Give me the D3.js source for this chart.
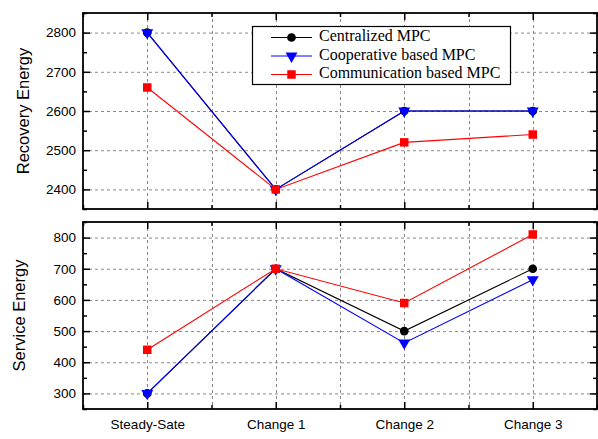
<!DOCTYPE html>
<html>
<head>
<meta charset="utf-8">
<script src="https://cdn.jsdelivr.net/npm/d3@7"></script>
<style>
  body { margin: 0; background: #fff; }
  svg { display: block; }
</style>
</head>
<body>
<svg id="chart" width="598" height="439"></svg>
<script>
// Scenario labels along the shared x axis
const categories = ["Steady-Sate", "Change 1", "Change 2", "Change 3"];

// Recovery energy per controller
const recoveryCentralized   = [2800, 2400, 2600, 2600];
const recoveryCooperative   = [2800, 2400, 2600, 2600];
const recoveryCommunication = [2660, 2400, 2520, 2540];

// Service energy per controller
const serviceCentralized   = [300, 700, 500, 700];
const serviceCooperative   = [300, 700, 462, 665];
const serviceCommunication = [440, 700, 590, 810];

const seriesNames = ["Centralized MPC", "Cooperative based MPC", "Communication based MPC"];

// Axis ticks
const recoveryTicks = [2400, 2500, 2600, 2700, 2800];
const recoveryMinor = [2350, 2450, 2550, 2650, 2750, 2850];
const serviceTicks  = [300, 400, 500, 600, 700, 800];
const serviceMinor  = [250, 350, 450, 550, 650, 750, 850];

const svg = d3.select("#chart");
const left = 83, right = 597;

const x = d3.scaleLinear().domain([-0.5, 3.5]).range([left, right]);
const xMajor = d3.range(categories.length);
const xMinor = d3.range(categories.length + 1).map(i => i - 0.5);
const xGrid  = d3.range(0, categories.length * 2 - 1).map(i => i * 0.5);

const styles = [
  { color: "#000000", shape: "circle" },
  { color: "#0000ff", shape: "triangle" },
  { color: "#ff0000", shape: "square" }
];

function marker(sel, shape, color) {
  if (shape === "circle") {
    sel.append("path").attr("d", d3.symbol(d3.symbolCircle, 60)()).attr("fill", color);
  } else if (shape === "triangle") {
    sel.append("path").attr("d", d3.symbol(d3.symbolTriangle, 62)())
      .attr("transform", "rotate(180)").attr("fill", color);
  } else {
    sel.append("path").attr("d", d3.symbol(d3.symbolSquare, 72)()).attr("fill", color);
  }
}

const sans = "Liberation Sans, Arial, sans-serif";

function panel(top, bottom, domain, ticks, minor, series, title, showXLabels) {
  const y = d3.scaleLinear().domain(domain).range([bottom, top]);
  const g = svg.append("g");
  const w = right - left, h = bottom - top;

  // dashed grid
  const grid = g.append("g").attr("stroke", "#8a8a8a").attr("stroke-width", 1)
    .attr("stroke-dasharray", "3,3");
  grid.selectAll("line.h").data(ticks).join("line")
    .attr("x1", left).attr("x2", right)
    .attr("y1", d => y(d) + 0.5).attr("y2", d => y(d) + 0.5);
  grid.selectAll("line.v").data(xGrid).join("line")
    .attr("y1", top).attr("y2", bottom)
    .attr("x1", d => Math.round(x(d)) + 0.5).attr("x2", d => Math.round(x(d)) + 0.5);

  // axes with inward ticks on all four sides
  const axisStyle = a => a.call(s => s.select(".domain").remove())
    .call(s => s.selectAll("line").attr("stroke", "#000").attr("stroke-width", 1.5));

  g.append("g").attr("transform", `translate(${left},0)`)
    .call(d3.axisLeft(y).tickValues(ticks).tickSize(-7).tickPadding(7).tickFormat(d3.format("d")))
    .call(axisStyle)
    .call(s => s.selectAll("text").attr("font-family", sans)
      .attr("font-size", 13.5).attr("fill", "#000"));
  g.append("g").attr("transform", `translate(${left},0)`)
    .call(d3.axisLeft(y).tickValues(minor).tickSize(-4).tickFormat(""))
    .call(axisStyle);
  g.append("g").attr("transform", `translate(${right},0)`)
    .call(d3.axisRight(y).tickValues(ticks).tickSize(-7).tickFormat(""))
    .call(axisStyle);
  g.append("g").attr("transform", `translate(${right},0)`)
    .call(d3.axisRight(y).tickValues(minor).tickSize(-4).tickFormat(""))
    .call(axisStyle);

  const bottomAxis = g.append("g").attr("transform", `translate(0,${bottom})`)
    .call(d3.axisBottom(x).tickValues(xMajor).tickSize(-7).tickPadding(10)
      .tickFormat(i => showXLabels ? categories[i] : ""))
    .call(axisStyle);
  bottomAxis.selectAll("text").attr("font-family", sans)
    .attr("font-size", 13.5).attr("fill", "#000");
  g.append("g").attr("transform", `translate(0,${bottom})`)
    .call(d3.axisBottom(x).tickValues(xMinor).tickSize(-4).tickFormat(""))
    .call(axisStyle);
  g.append("g").attr("transform", `translate(0,${top})`)
    .call(d3.axisTop(x).tickValues(xMajor).tickSize(-7).tickFormat(""))
    .call(axisStyle);
  g.append("g").attr("transform", `translate(0,${top})`)
    .call(d3.axisTop(x).tickValues(xMinor).tickSize(-4).tickFormat(""))
    .call(axisStyle);

  // frame
  g.append("rect").attr("x", left).attr("y", top).attr("width", w).attr("height", h)
    .attr("fill", "none").attr("stroke", "#000").attr("stroke-width", 1.8);

  // axis title
  g.append("text")
    .attr("transform", `translate(${title.x},${(top + bottom) / 2}) rotate(-90)`)
    .attr("text-anchor", "middle").attr("dominant-baseline", "middle")
    .attr("font-family", sans).attr("font-size", 16.5)
    .text(title.text);

  // series lines and markers
  const line = d3.line().x((d, i) => x(i)).y(d => y(d));
  series.forEach((vals, k) => {
    const st = styles[k];
    g.append("path").datum(vals).attr("d", line)
      .attr("fill", "none").attr("stroke", st.color).attr("stroke-width", 1.1);
    vals.forEach((v, i) => {
      const m = g.append("g").attr("transform", `translate(${x(i)},${y(v)})`);
      marker(m, st.shape, st.color);
    });
  });
  return y;
}

panel(13, 209, [2350, 2850], recoveryTicks, recoveryMinor,
  [recoveryCentralized, recoveryCooperative, recoveryCommunication],
  { text: "Recovery Energy", x: 25 }, false);

panel(222, 409, [250, 850], serviceTicks, serviceMinor,
  [serviceCentralized, serviceCooperative, serviceCommunication],
  { text: "Service Energy", x: 21 }, true);

// legend
const lg = svg.append("g");
lg.append("rect").attr("x", 252.5).attr("y", 26.5).attr("width", 258).attr("height", 58)
  .attr("fill", "#fff").attr("stroke", "#000").attr("stroke-width", 1.2);
seriesNames.forEach((name, k) => {
  const cy = 37.5 + k * 18.5;
  const st = styles[k];
  lg.append("line").attr("x1", 271).attr("x2", 312).attr("y1", cy).attr("y2", cy)
    .attr("stroke", st.color).attr("stroke-width", 1.1);
  const m = lg.append("g").attr("transform", `translate(291.5,${cy})`);
  marker(m, st.shape, st.color);
  lg.append("text").attr("x", 319).attr("y", cy).attr("dominant-baseline", "middle")
    .attr("font-family", "Liberation Serif, Times New Roman, serif").attr("font-size", 16)
    .text(name);
});
</script>
</body>
</html>
